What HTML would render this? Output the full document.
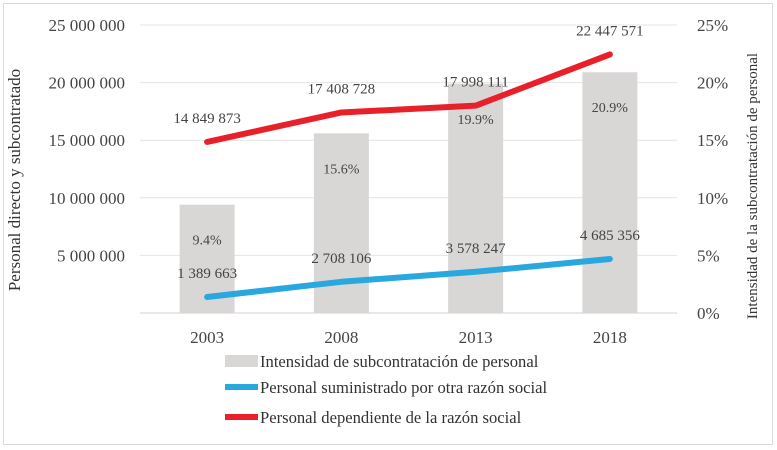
<!DOCTYPE html>
<html><head><meta charset="utf-8"><style>
body{margin:0;background:#fff;}
svg{display:block;font-family:"Liberation Serif",serif;}
</style></head><body>
<svg id="c" width="777" height="450">
<rect x="3.5" y="3.5" width="769" height="441" fill="#fff" stroke="#d9d9d9"/>
<g id="grid"></g><g id="bars"></g><g id="lines"></g><g id="labels"></g>
<text transform="translate(20,180) rotate(-90)" text-anchor="middle" font-size="17" fill="#333">Personal directo y subcontratado</text>
<text transform="translate(757,186) rotate(-90)" text-anchor="middle" font-size="15" fill="#333">Intensidad de la subcontratación de personal</text>
<g>
<rect x="225" y="355" width="33" height="12" fill="#d9d7d6"/>
<text x="260" y="367" font-size="16.6" fill="#333">Intensidad de subcontratación de personal</text>
<line x1="225" y1="387" x2="258" y2="387" stroke="#29a8e0" stroke-width="6"/>
<text x="260" y="393" font-size="16.6" fill="#333">Personal suministrado por otra razón social</text>
<line x1="225" y1="417" x2="258" y2="417" stroke="#e8202a" stroke-width="6"/>
<text x="260" y="423" font-size="16.6" fill="#333">Personal dependiente de la razón social</text>
</g>
</svg>
<script>
const categories=["2003","2008","2013","2018"];
const intensity=[9.4,15.6,19.9,20.9];
const suministrado=[1389663,2708106,3578247,4685356];
const dependiente=[14849873,17408728,17998111,22447571];
const leftTicks=[0,5000000,10000000,15000000,20000000,25000000];
const rightTicks=[0,5,10,15,20,25];
const NS="http://www.w3.org/2000/svg";
const y0=313,yTop=25,xL=140,xR=677;
const yL=v=>y0-(v/25000000)*(y0-yTop);
const yR=v=>y0-(v/25)*(y0-yTop);
const step=(xR-xL)/categories.length;
const xC=i=>xL+step*(i+0.5);
function mk(tag,attrs,parent,text){const e=document.createElementNS(NS,tag);for(const k in attrs)e.setAttribute(k,attrs[k]);if(text!=null)e.textContent=text;document.getElementById(parent).appendChild(e);return e;}
const fmt=v=>String(v).replace(/\B(?=(\d{3})+(?!\d))/g," ");
leftTicks.forEach(t=>{
  const y=yL(t);
  const l=mk('line',{x1:xL,x2:xR,y1:y,y2:y,stroke:t===0?'#d0d0d0':'#e4e4e4','stroke-width':1},'grid');
  
  
  if(t>0){const tx=mk('text',{x:125,y:y+6,'text-anchor':'end','font-size':17,fill:'#444'},'grid',fmt(t));
  
  }
});
rightTicks.forEach(t=>{
  const tx=mk('text',{x:697,y:yR(t)+6,'font-size':17,fill:'#444'},'grid',t+'%');
  
  
});
categories.forEach((c,i)=>{
  const tx=mk('text',{x:xC(i),y:y0+30,'text-anchor':'middle','font-size':17,fill:'#444'},'labels',c);
  
  
  const bw=55;
  const b=mk('rect',{x:xC(i)-bw/2,y:yR(intensity[i]),width:bw,height:y0-yR(intensity[i]),fill:'#d9d7d6'},'bars');
  
  
  const bl=mk('text',{x:xC(i),y:yR(intensity[i])+40,'text-anchor':'middle','font-size':14,fill:'#444'},'labels',intensity[i].toFixed(1)+'%');
  
  
  const b1=mk('text',{x:xC(i),y:yL(suministrado[i])-19,'text-anchor':'middle','font-size':15,fill:'#444'},'labels',fmt(suministrado[i]));
  
  
  const r1=mk('text',{x:xC(i),y:yL(dependiente[i])-19,'text-anchor':'middle','font-size':15,fill:'#444'},'labels',fmt(dependiente[i]));
  
  
});
const pts=a=>a.map((v,i)=>xC(i)+','+yL(v)).join(' ');
const pb=mk('polyline',{points:pts(suministrado),fill:'none',stroke:'#29a8e0','stroke-width':6,'stroke-linecap':'round','stroke-linejoin':'round'},'lines');


const pr=mk('polyline',{points:pts(dependiente),fill:'none',stroke:'#e8202a','stroke-width':6,'stroke-linecap':'round','stroke-linejoin':'round'},'lines');


</script>
</body></html>
